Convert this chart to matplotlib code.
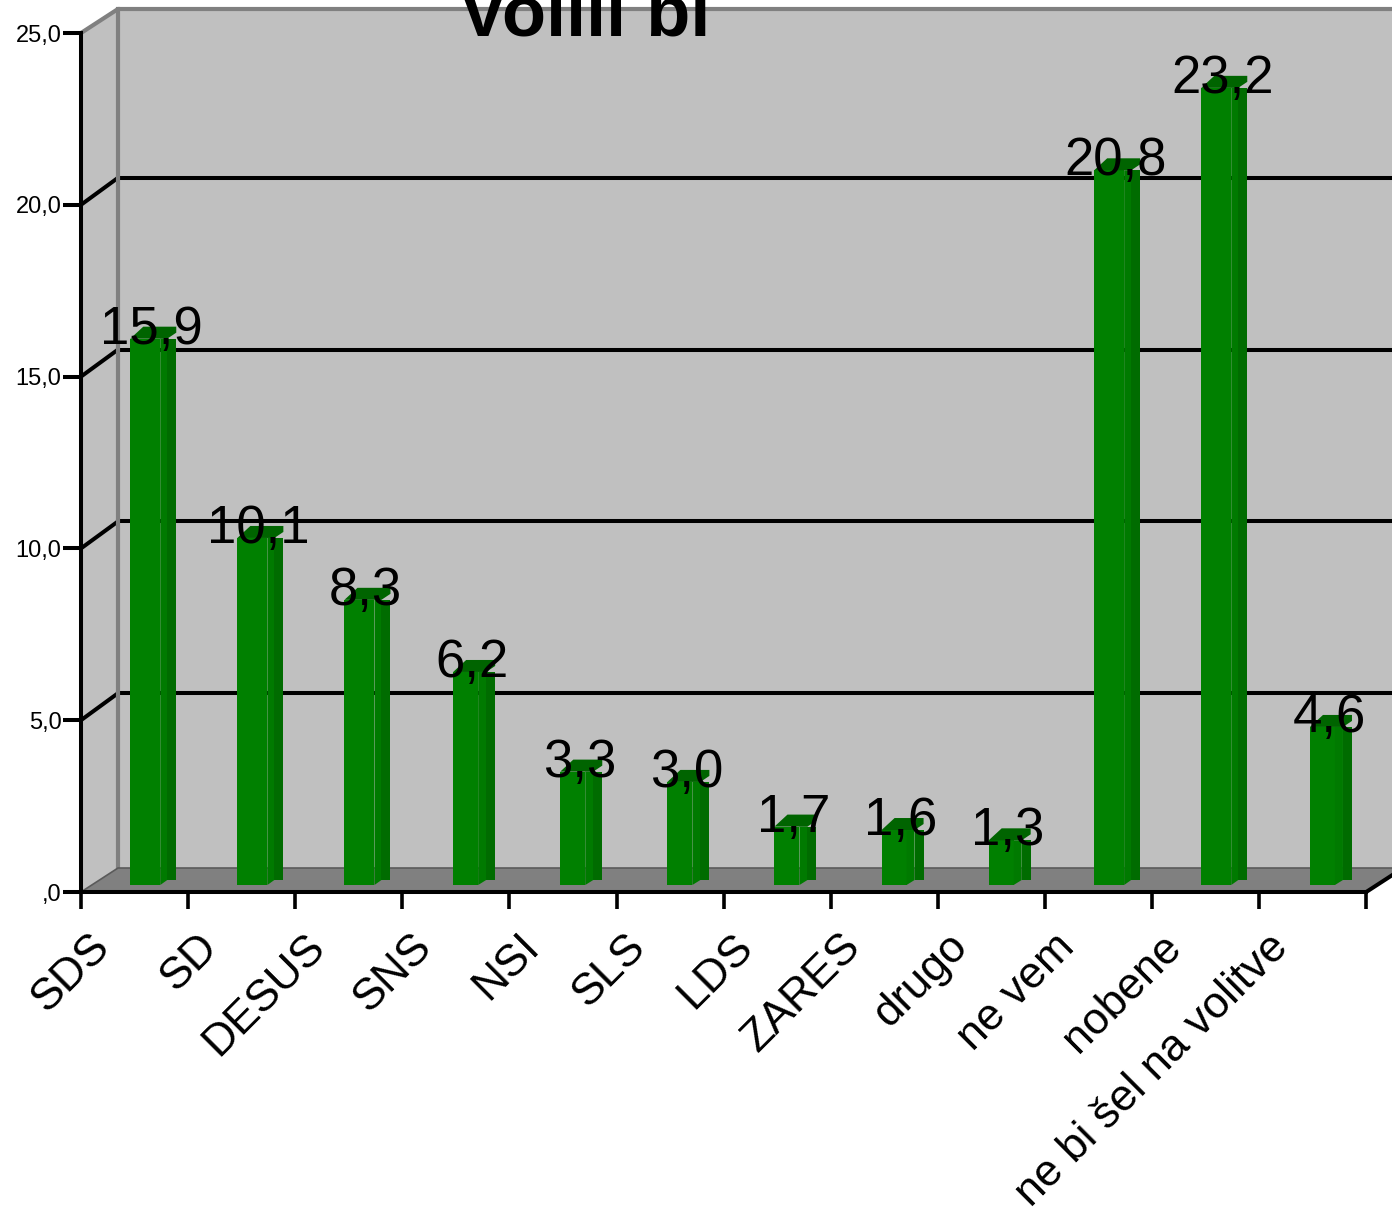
import matplotlib
matplotlib.use("Agg")
from matplotlib import pyplot as plt

# Chart data
categories = ["SDS", "SD", "DESUS", "SNS", "NSI", "SLS", "LDS", "ZARES", "drugo",
              "ne vem", "nobene", "ne bi šel na volitve"]
values = [15.9, 10.1, 8.3, 6.2, 3.3, 3.0, 1.7, 1.6, 1.3, 20.8, 23.2, 4.6]
y_ticks = [0, 5, 10, 15, 20, 25]
y_tick_labels = [",0", "5,0", "10,0", "15,0", "20,0", "25,0"]

# Pixels per data unit, used for the fake 3D offsets
PX_X = 107.1
PX_Y = 34.36
DEPTH_X = 37 / PX_X
DEPTH_Y = 24 / PX_Y
GRID_DEPTH_Y = 27 / PX_Y
BAR_BOTTOM = 7 / PX_Y

WALL = "#c0c0c0"
FLOOR = "#808080"
EDGE = "#808080"
FRONT = "#008000"
BAND = "#007a00"
SIDE = "#006c00"
BAR_TOP = "#006400"

plt.rcParams["font.family"] = ["Liberation Sans", "DejaVu Sans"]

fig = plt.figure(figsize=(13.92, 12.16), dpi=100)
ax = fig.add_axes([0, 0, 1, 1])
ax.set_xlim(-81 / PX_X, (1392 - 81) / PX_X)
ax.set_ylim(-(1216 - 892) / PX_Y, 892 / PX_Y)
ax.patch.set_alpha(0)

n = len(categories)
top = y_ticks[-1]
x_right = ax.get_xlim()[1]
floor_right = (x_right - n) / DEPTH_X * DEPTH_Y

# Back wall, left wall and floor
ax.fill([DEPTH_X, x_right, x_right, DEPTH_X],
        [DEPTH_Y, DEPTH_Y, top + DEPTH_Y, top + DEPTH_Y], color=WALL, lw=0, zorder=0)
ax.fill([0, DEPTH_X, DEPTH_X, 0], [0, DEPTH_Y, top + DEPTH_Y, top], color=WALL, lw=0, zorder=0)
ax.fill([0, n, x_right, x_right, DEPTH_X],
        [0, 0, floor_right, DEPTH_Y, DEPTH_Y], color=FLOOR, lw=0, zorder=0.5)

# Grid lines run along the back wall and slant down to the axis
for tick in y_ticks[1:-1]:
    ax.plot([DEPTH_X, x_right], [tick + GRID_DEPTH_Y] * 2, color="black", lw=2.9, zorder=1)
    ax.plot([0, DEPTH_X], [tick, tick + GRID_DEPTH_Y], color="black", lw=2.9, zorder=1)

# Wall edges
ax.plot([0, DEPTH_X, x_right], [top, top + DEPTH_Y, top + DEPTH_Y], color=EDGE, lw=3, zorder=1.2)
ax.plot([DEPTH_X, DEPTH_X], [DEPTH_Y, top + DEPTH_Y], color=EDGE, lw=3, zorder=1.2)
ax.plot([0, DEPTH_X, x_right], [0, DEPTH_Y, DEPTH_Y], color="#5a5a5a", lw=1.2, zorder=1.2)
ax.plot([n, x_right], [0, floor_right], color="black", lw=2.9, zorder=1.3)

# Bars, the short ones are drawn a little narrower
for i, value in enumerate(values):
    if value >= 8:
        left = i + 0.46
        w_front, w_band, w_total = 30 / PX_X, 37 / PX_X, 46 / PX_X
    else:
        left = i + 0.475
        w_front, w_band, w_total = 25 / PX_X, 33 / PX_X, 42 / PX_X
    x1, x2, x3 = left + w_front, left + w_band, left + w_total
    bottom = BAR_BOTTOM
    y_top = bottom + value
    rise = 5 / PX_Y
    back = 12 / PX_Y

    ax.bar(left, value, width=w_front, bottom=bottom, align="edge", color=FRONT, lw=0, zorder=2)
    ax.fill([x1, x2, x2, x1], [bottom, bottom + rise, y_top, y_top], color=BAND, lw=0, zorder=2)
    ax.fill([x2, x3, x3, x2], [bottom + rise, bottom + rise, y_top, y_top], color=SIDE, lw=0, zorder=2)
    ax.fill([left, x2, x3, x3, left + 13 / PX_X],
            [y_top, y_top, y_top + back / 2, y_top + back, y_top + back],
            color=BAR_TOP, lw=0, zorder=2.1)

    # Value label with a decimal comma
    ax.text((left + x3) / 2 - 2 / PX_X, y_top - 5 / PX_Y, f"{value:.1f}".replace(".", ","),
            ha="center", va="baseline", fontsize=38, color="black", zorder=5)

    # Category label, rotated and ending under the tick gap
    ax.text(i + 0.08, -34 / PX_Y, categories[i], rotation=45, rotation_mode="anchor",
            ha="right", va="top", fontsize=32, color="black", zorder=5)

# Axes and ticks
for side in ["top", "right"]:
    ax.spines[side].set_visible(False)
ax.spines["left"].set_position(("data", 0))
ax.spines["left"].set_bounds(0, top)
ax.spines["bottom"].set_position(("data", 0))
ax.spines["bottom"].set_bounds(0, n)
for side in ["left", "bottom"]:
    ax.spines[side].set_linewidth(2.9)
    ax.spines[side].set_zorder(3)

ax.set_xticks(range(n + 1))
ax.set_xticklabels([])
ax.set_yticks(y_ticks)
ax.set_yticklabels(y_tick_labels, fontsize=17)
ax.tick_params(axis="x", direction="out", length=12.5, width=2.6)
ax.tick_params(axis="y", direction="out", length=13, width=2.9, pad=1)

# Title is cut off by the top of the image in the original
ax.text((585 - 81) / PX_X, (892 - 35) / PX_Y, "Volili bi", ha="center", va="baseline",
        fontsize=52, fontweight="bold", color="black", zorder=5)

fig.savefig("out.png", dpi=100)
